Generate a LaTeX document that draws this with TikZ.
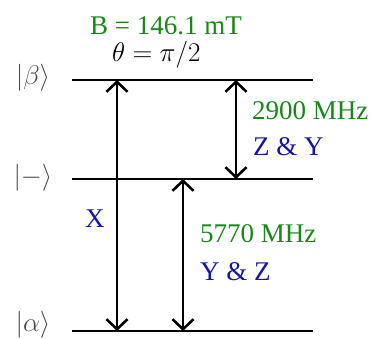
\RequirePackage{fix-cm}
\documentclass[tikz,border=0pt]{standalone}
\usepackage{fontspec}
\setmainfont{Liberation Serif}
\usetikzlibrary{arrows.meta}
\definecolor{lblgreen}{RGB}{25,135,25}
\definecolor{lblblue}{RGB}{20,20,165}
\begin{document}
\begin{tikzpicture}[x=1pt,y=-1pt,
  every node/.style={inner sep=0pt,font=\fontsize{27}{32}\selectfont},
  level/.style={line width=2.7pt},
  trans/.style={line width=2.6pt,{Straight Barb[length=10pt,width=21pt]}-{Straight Barb[length=10pt,width=21pt]}},
  freq/.style={text=lblgreen,anchor=base west},
  pol/.style={text=lblblue,anchor=base west},
  ket/.style={text=black!70}]
\useasboundingbox (0,0) rectangle (374,339);
% levels
\coordinate (bL) at (72,80);  \coordinate (bR) at (313,80);
\coordinate (mL) at (72,179); \coordinate (mR) at (313,179);
\coordinate (aL) at (72,331); \coordinate (aR) at (313,331);
\draw[level] (bL) -- (bR);
\draw[level] (mL) -- (mR);
\draw[level] (aL) -- (aR);
% transition endpoints
\coordinate (xT) at (117,80);  \coordinate (xB) at (117,331);
\coordinate (zT) at (236,80);  \coordinate (zB) at (236,179);
\coordinate (yT) at (183,179); \coordinate (yB) at (183,331);
\draw[trans] (xT) -- (xB);
\draw[trans] (zT) -- (zB);
\draw[trans] (yT) -- (yB);
% kets
\node[ket] (kb) at (33,78) {$|\beta\rangle$};
\node[ket] (km) at (33,178) {$|{-}\rangle$};
\node[ket] (ka) at (33,325) {$|\alpha\rangle$};
% labels
\node[freq] (field) at (90,35) {B = 146.1 mT};
\node[anchor=base west] (theta) at (112,62) {$\theta=\pi/2$};
\node[freq] (f1) at (252,120) {2900 MHz};
\node[pol] (p1) at (253,155) {Z \& Y};
\node[freq] (f2) at (200,242) {5770 MHz};
\node[pol] (p2) at (200,280) {Y \& Z};
\node[pol] (px) at (85,227) {X};
\end{tikzpicture}
\end{document}
